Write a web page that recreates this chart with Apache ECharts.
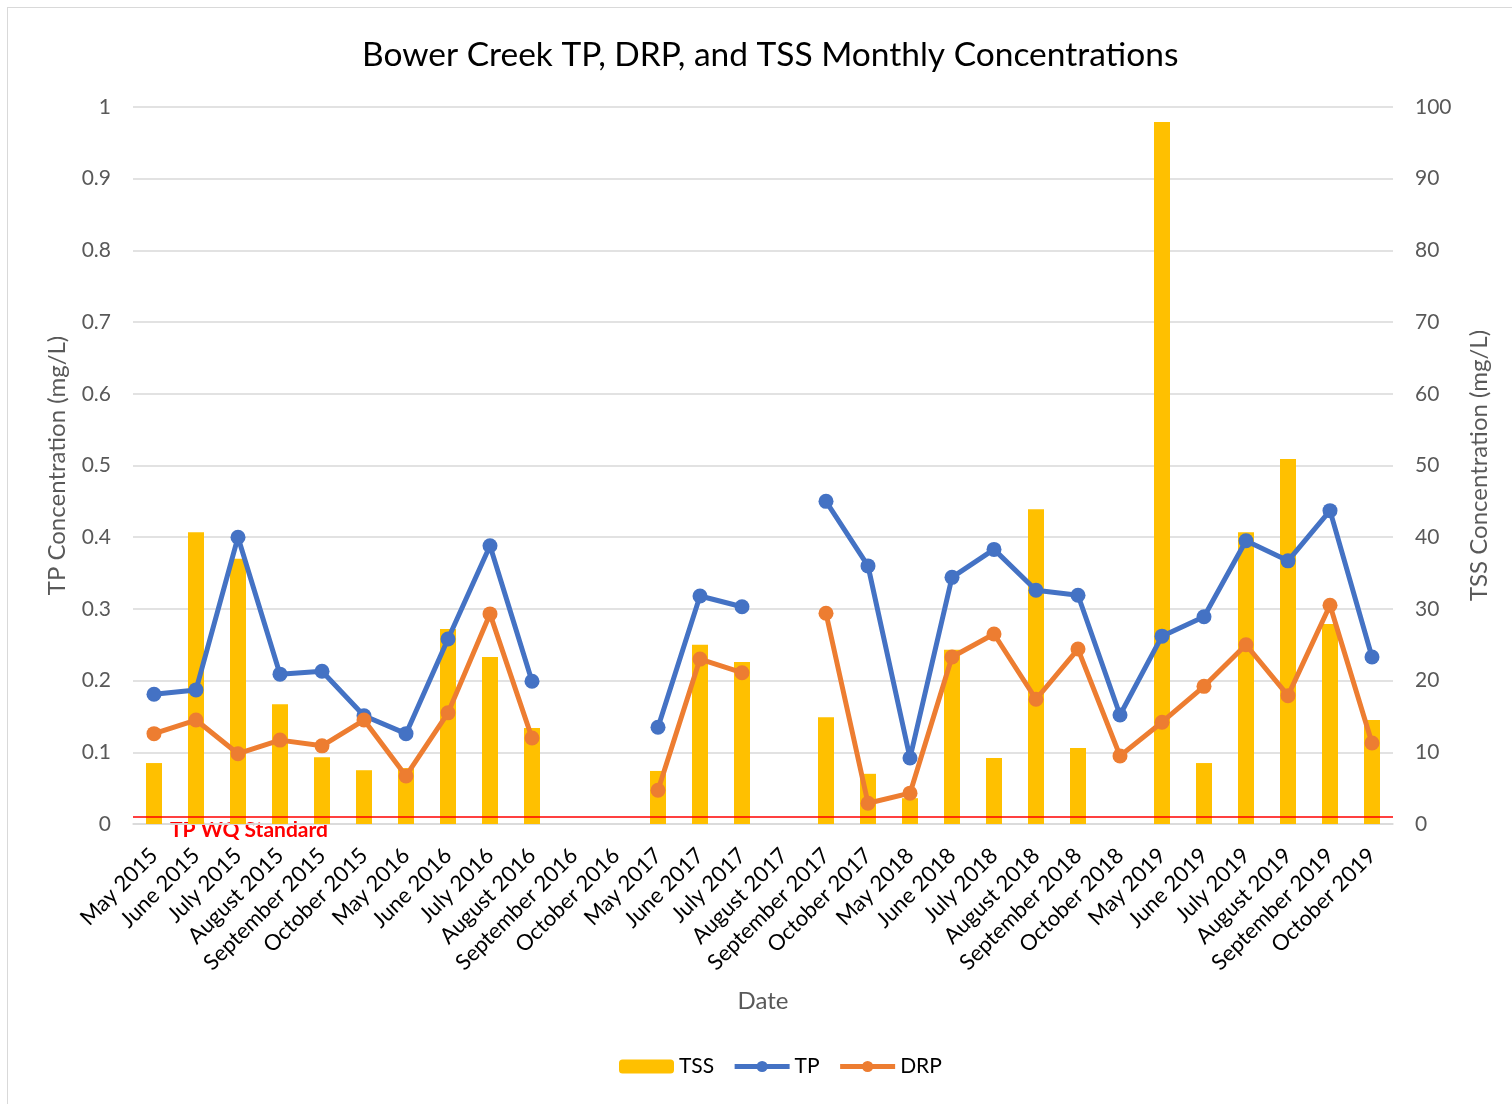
<!DOCTYPE html>
<html>
<head>
<meta charset="utf-8">
<script src="https://cdn.jsdelivr.net/npm/echarts@6/dist/echarts.min.js"></script>
<style>
  html, body { margin: 0; padding: 0; background: #fff; }
  #frame { position: absolute; left: 7px; top: 7px; width: 1520px; height: 1120px; border: 1px solid #d9d9d9; box-sizing: border-box; }
  #chart { position: absolute; left: 0; top: 0; width: 1512px; height: 1104px; }
</style>
</head>
<body>
<div id="frame"></div>
<div id="chart"></div>
<script>
// categories (sampling months)
const months = [
  "May 2015", "June 2015", "July 2015", "August 2015", "September 2015", "October 2015",
  "May 2016", "June 2016", "July 2016", "August 2016", "September 2016", "October 2016",
  "May 2017", "June 2017", "July 2017", "August 2017", "September 2017", "October 2017",
  "May 2018", "June 2018", "July 2018", "August 2018", "September 2018", "October 2018",
  "May 2019", "June 2019", "July 2019", "August 2019", "September 2019", "October 2019"
];

// TSS mg/L (right axis)
const tss = [
  8.5, 40.7, 37.0, 16.7, 9.3, 7.5,
  7.8, 27.2, 23.3, 13.4, null, null,
  7.4, 25.0, 22.6, null, 14.9, 7.0,
  3.6, 24.3, 9.2, 43.9, 10.6, null,
  97.9, 8.5, 40.7, 50.9, 27.9, 14.5
];

// TP mg/L
const tp = [
  0.181, 0.187, 0.400, 0.209, 0.213, 0.151,
  0.126, 0.258, 0.388, 0.199, null, null,
  0.135, 0.318, 0.303, null, 0.450, 0.360,
  0.092, 0.344, 0.383, 0.326, 0.319, 0.152,
  0.262, 0.289, 0.395, 0.367, 0.437, 0.233
];

// DRP mg/L
const drp = [
  0.126, 0.145, 0.098, 0.117, 0.109, 0.145,
  0.067, 0.155, 0.293, 0.120, null, null,
  0.047, 0.230, 0.211, null, 0.294, 0.029,
  0.043, 0.233, 0.265, 0.174, 0.244, 0.095,
  0.142, 0.192, 0.250, 0.179, 0.305, 0.113
];

const tpStandard = 0.013;

const font = "Lato, 'Open Sans', sans-serif";
const myChart = echarts.init(document.getElementById("chart"));
const option = {
  animation: false,
  textStyle: { fontFamily: font },
  title: {
    text: "Bower Creek TP, DRP, and TSS Monthly Concentrations",
    left: 357,
    top: 33,
    textStyle: { fontFamily: font, fontSize: 33.5, fontWeight: "normal", color: "#000" }
  },
  legend: {
    bottom: 22,
    left: 614,
    itemWidth: 55,
    itemHeight: 14,
    itemGap: 18,
    lineStyle: { width: 5 },
    textStyle: { fontFamily: font, fontSize: 21, color: "#000" },
    data: ["TSS", "TP", "DRP"]
  },
  grid: { left: 133, right: 119, top: 107, bottom: 280 },
  graphic: [
    {
      type: "text",
      left: 170,
      top: 820,
      style: { text: "TP WQ Standard", fill: "#ff0000", font: "bold 21px " + font }
    }
  ],
  xAxis: {
    type: "category",
    data: months,
    name: "Date",
    nameLocation: "middle",
    nameGap: 165,
    nameTextStyle: { fontSize: 24, color: "#595959", fontFamily: font },
    axisLine: { lineStyle: { color: "#d9d9d9", width: 1.5 } },
    axisTick: { show: false },
    axisLabel: { rotate: 45, interval: 0, fontSize: 22, color: "#000", fontFamily: font, margin: 28 }
  },
  yAxis: [
    {
      type: "value",
      min: 0,
      max: 1,
      interval: 0.1,
      name: "TP Concentration (mg/L)",
      nameLocation: "middle",
      nameGap: 64,
      nameTextStyle: { fontSize: 24, color: "#595959", fontFamily: font },
      axisLabel: { fontSize: 21, color: "#595959", margin: 22, fontFamily: font },
      axisLine: { show: false },
      axisTick: { show: false },
      splitLine: { lineStyle: { color: "#d9d9d9", width: 1.5 } }
    },
    {
      type: "value",
      min: 0,
      max: 100,
      interval: 10,
      name: "TSS Concentration (mg/L)",
      nameLocation: "middle",
      nameGap: 74,
      nameRotate: 90,
      nameTextStyle: { fontSize: 24, color: "#595959", fontFamily: font },
      axisLabel: { fontSize: 21, color: "#595959", margin: 22, fontFamily: font },
      axisLine: { show: false },
      axisTick: { show: false },
      splitLine: { show: false }
    }
  ],
  series: [
    {
      name: "TSS",
      type: "bar",
      yAxisIndex: 1,
      barWidth: 16,
      itemStyle: { color: "#ffc000" },
      data: tss
    },
    {
      name: "TP",
      type: "line",
      yAxisIndex: 0,
      connectNulls: false,
      symbol: "circle",
      symbolSize: 15,
      itemStyle: { color: "#4472c4" },
      lineStyle: { color: "#4472c4", width: 5 },
      emphasis: { disabled: true },
      data: tp,
      markLine: {
        silent: true,
        symbol: "none",
        label: { show: false },
        lineStyle: { color: "#ff0000", type: "solid", width: 1.5 },
        data: [{ yAxis: tpStandard }]
      }
    },
    {
      name: "DRP",
      type: "line",
      yAxisIndex: 0,
      connectNulls: false,
      symbol: "circle",
      symbolSize: 15,
      itemStyle: { color: "#ed7d31" },
      lineStyle: { color: "#ed7d31", width: 5 },
      emphasis: { disabled: true },
      data: drp
    }
  ]
};
myChart.setOption(option);
</script>
</body>
</html>
